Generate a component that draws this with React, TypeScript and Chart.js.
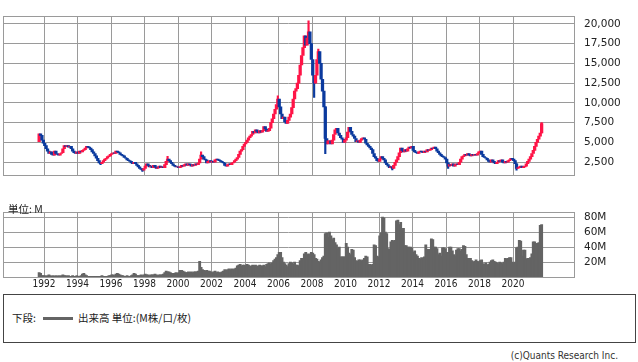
import React, { useEffect, useRef } from "react";
import { Chart, registerables } from "chart.js";
Chart.register(...registerables);

// ---- data (monthly, starting Sep 1991) ----
const START_YEAR = 1991;
const START_MONTH = 9;
const firstOpen = 5100;
const closes = [
  6100, 5900, 5300, 4900,
  4600, 4200, 3900, 3600, 3800, 3500, 3400, 3900, 3600, 3500, 3400, 3600,
  3700, 4200, 4600, 4500, 4600, 4400, 4500, 4200, 3900, 3700, 3600, 3800,
  3600, 3900, 3800, 4000, 4100, 4300, 4500, 4400, 4300, 4100, 3800, 3600,
  3300, 3000, 2700, 2400, 2300, 2500, 2700, 2900, 3000, 3200, 3300, 3500,
  3600, 3700, 3600, 3900, 3800, 3700, 3500, 3400, 3300, 3100, 3000, 2800,
  2700, 2600, 2400, 2300, 2500, 2300, 2100, 1900, 1700, 1600, 1500, 1700,
  2000, 2300, 2100, 1900, 2000, 1800, 2100, 1900, 1700, 1800, 2000, 1800,
  1900, 1800, 2200, 2600, 2900, 2700, 2500, 2300, 2100, 2000, 1900, 1900,
  1800, 1900, 2100, 2000, 2200, 2300, 2100, 2300, 2200, 2000, 2200, 2100,
  2300, 2200, 2400, 2900, 3400, 3200, 2900, 2800, 2400, 2600, 2700, 2500,
  2600, 2500, 2800, 2900, 2800, 2700, 2600, 2500, 2400, 2100, 2000, 2200,
  2300, 2200, 2400, 2500, 2700, 2900, 3100, 3500, 3900, 4100, 4500, 4800,
  5000, 5300, 5600, 5800, 6000, 6400, 6200, 6600, 6400, 6200, 6500, 6300,
  6500, 7000, 6700, 6400, 6500, 6800, 7500, 8000, 8600, 9200, 9800, 10500,
  9500, 8600, 8000, 8200, 7600, 7400, 7800, 8200, 8600, 9400, 10500, 11500,
  11800, 12500, 13500, 14800, 16000, 17000, 18500, 17300, 18200, 19000, 17500, 15500,
  13500, 12500, 13500, 15500, 16500, 15000, 13000, 11500, 9500, 5500, 4800, 5200,
  5200, 4800, 5300, 6000, 6600, 6800, 6200, 5900, 5600, 5400, 5000, 5300,
  5600, 6300, 6900, 6400, 6000, 5800, 5500, 5100, 5200, 5000, 5300, 5500,
  5600, 5400, 4900, 4700, 4500, 4300, 4100, 3600, 3200, 3000, 2700, 2600,
  2900, 3200, 3000, 2800, 2400, 2200, 2000, 1800, 1900, 1700, 2100, 2500,
  2800, 3200, 3700, 4300, 4000, 3800, 4100, 3900, 4200, 4400, 4300, 4500,
  4000, 3800, 3700, 3600, 3800, 3900, 3800, 3700, 3900, 3800, 4100, 4000,
  4100, 4300, 4200, 4400, 4200, 3900, 3700, 3500, 3300, 3200, 3100, 2900,
  2400, 2000, 2200, 2100, 2300, 2000, 2200, 2300, 2200, 2500, 2900, 3200,
  3300, 3500, 3400, 3600, 3400, 3300, 3500, 3400, 3500, 3400, 3600, 3800,
  3900, 3500, 3200, 3100, 3000, 2800, 2600, 2500, 2800, 2600, 2400, 2300,
  2500, 2700, 2600, 2800, 2500, 2400, 2600, 2500, 2700, 2800, 3000, 2900,
  2700, 2300, 1700, 1800, 1900, 2000, 1800, 1900, 2000, 2300, 2600, 2900,
  3200, 3600, 4000, 4500, 5000, 5400, 5800, 6200, 7400,
];
// monthly volume, millions
const volumes = [
  6, 5, 2, 2,
  2, 1, 2, 3, 2, 1, 2, 1, 2, 1, 2, 1,
  2, 3, 2, 2, 1, 2, 1, 1, 2, 1, 1, 2,
  1, 1, 2, 4, 5, 3, 2, 1, 1, 1, 1, 1,
  1, 1, 1, 1, 1, 2, 1, 1, 1, 1, 2, 2,
  3, 3, 2, 4, 5, 4, 3, 2, 2, 1, 1, 2,
  1, 1, 2, 3, 5, 4, 2, 2, 2, 3, 2, 3,
  4, 3, 3, 2, 3, 3, 3, 4, 3, 2, 3, 3,
  3, 4, 6, 8, 7, 7, 6, 5, 5, 5, 6, 5,
  6, 9, 9, 8, 7, 6, 6, 7, 6, 7, 6, 7,
  7, 7, 8, 21, 13, 10, 9, 8, 9, 8, 8, 7,
  6, 7, 8, 6, 7, 6, 6, 7, 8, 10, 9, 10,
  11, 10, 11, 10, 11, 12, 15, 16, 17, 15, 16, 16,
  15, 17, 16, 14, 15, 16, 15, 16, 14, 15, 16, 15,
  15, 16, 14, 17, 18, 19, 17, 19, 22, 24, 26, 30,
  33, 33, 26, 20, 18, 16, 14, 18, 20, 19, 17, 20,
  16, 16, 15, 22, 25, 22, 31, 33, 30, 31, 28, 33,
  32, 30, 25, 24, 21, 20, 23, 26, 28, 58, 59, 53,
  60, 55, 50, 52, 46, 43, 38, 40, 27, 27, 27, 27,
  45, 40, 32, 30, 37, 36, 26, 22, 21, 23, 23, 22,
  23, 25, 28, 27, 17, 17, 16, 17, 43, 42, 28, 27,
  55, 59, 80, 79, 60, 58, 38, 37, 47, 49, 48, 49,
  75, 76, 70, 73, 62, 65, 42, 42, 40, 40, 40, 39,
  33, 35, 30, 28, 25, 24, 26, 25, 27, 43, 37, 37,
  37, 51, 50, 40, 40, 38, 30, 32, 28, 39, 39, 38,
  33, 33, 40, 40, 35, 30, 28, 36, 38, 38, 35, 37,
  42, 41, 30, 25, 25, 25, 22, 20, 21, 23, 21, 20,
  22, 23, 18, 17, 19, 16, 17, 20, 22, 23, 21, 20,
  19, 18, 20, 19, 18, 20, 25, 24, 25, 26, 26, 20,
  19, 20, 39, 40, 49, 48, 28, 36, 36, 24, 25, 24,
  26, 31, 47, 47, 44, 45, 46, 69, 70,
];
const wickMonths = ["1995-05", "1997-11", "1999-05", "2001-05", "2005-12", "2007-10", "2008-02", "2008-05", "2008-10", "2012-10", "2016-02", "2020-03", "2021-09"];
const wickLows = [2180, 1330, 2600, 3000, 10000, 18000, 10700, 15800, 3570, 1530, 1700, 1500, 6200];
const wickHighs = [2500, 1700, 3250, 3800, 10900, 20400, 13500, 16800, 9500, 1900, 2400, 2300, 7500];
const yearTicks = [1992, 1994, 1996, 1998, 2000, 2002, 2004, 2006, 2008, 2010, 2012, 2014, 2016, 2018, 2020];
const priceTicks = [2500, 5000, 7500, 10000, 12500, 15000, 17500, 20000];
const volumeTicks = [20, 40, 60, 80];

// ---- styles ----
const X_MIN = 1989.55;
const X_MAX = 2023.64;
const RED = "#ff1447";
const BLUE = "#0b3a9e";
const GRID = "#9a9a9a";
const VOL = "#646464";
const TICK_FONT = { family: "'DejaVu Sans'", size: 10.5 };
const YEAR_FONT = { family: "'DejaVu Sans Condensed', 'DejaVu Sans'", size: 10 };

const monthX = (i: number) => START_YEAR + (START_MONTH - 1 + i + 0.5) / 12;
const keyIndex = (k: string) => {
  const [y, m] = k.split("-").map(Number);
  return (y - START_YEAR) * 12 + (m - START_MONTH);
};

const framePlugin = {
  id: "frame",
  beforeDatasetsDraw(chart: any) {
    const { ctx, chartArea: a } = chart;
    ctx.save();
    ctx.strokeStyle = GRID;
    ctx.lineWidth = 1;
    ctx.strokeRect(Math.round(a.left) + 0.5, Math.round(a.top) + 0.5, Math.round(a.right - a.left), Math.round(a.bottom - a.top));
    ctx.restore();
  },
};

function PriceChart() {
  const ref = useRef<HTMLCanvasElement>(null);
  useEffect(() => {
    const opens = closes.map((c, i) => (i === 0 ? firstOpen : closes[i - 1]));
    const bodies = closes.map((c, i) => ({ x: monthX(i), y: [opens[i], c] }));
    const bodyColors = closes.map((c, i) => (c >= opens[i] ? RED : BLUE));
    const wicks = wickMonths.map((k, j) => ({ x: monthX(keyIndex(k)), y: [wickLows[j], wickHighs[j]] }));
    const wickColors = wickMonths.map((k) => {
      const i = keyIndex(k);
      return closes[i] >= opens[i] ? RED : BLUE;
    });
    const chart = new Chart(ref.current!, {
      type: "bar",
      data: {
        datasets: [
          { data: wicks as any, backgroundColor: wickColors, barThickness: 1.5, grouped: false, order: 1 } as any,
          { data: bodies as any, backgroundColor: bodyColors, barThickness: 2.6, grouped: false, order: 0 } as any,
        ],
      },
      options: {
        animation: false,
        responsive: false,
        maintainAspectRatio: false,
        layout: { padding: { left: 3, top: 1, right: 0, bottom: 2 } },
        plugins: { legend: { display: false }, tooltip: { enabled: false } },
        scales: {
          x: {
            type: "linear",
            min: X_MIN,
            max: X_MAX,
            offset: false,
            grid: { color: GRID, drawTicks: false, offset: false },
            border: { display: false },
            ticks: { display: false },
            afterBuildTicks: (s: any) => {
              s.ticks = yearTicks.map((v) => ({ value: v }));
            },
            afterFit: (s: any) => {
              s.height = 0;
            },
          },
          y: {
            position: "right",
            min: 793,
            max: 20960,
            grid: { color: GRID, drawTicks: false },
            border: { display: false },
            ticks: {
              padding: 10,
              color: "#222",
              font: TICK_FONT,
              callback: (v: any) => Number(v).toLocaleString("en-US"),
            },
            afterBuildTicks: (s: any) => {
              s.ticks = priceTicks.map((v) => ({ value: v }));
            },
            afterFit: (s: any) => {
              s.width = 64;
            },
          },
        },
      } as any,
      plugins: [framePlugin],
    });
    return () => chart.destroy();
  }, []);
  return <canvas ref={ref} width={638} height={192} style={{ position: "absolute", left: 0, top: 0 }} />;
}

function VolumeChart() {
  const ref = useRef<HTMLCanvasElement>(null);
  useEffect(() => {
    const bars = volumes.map((v, i) => ({ x: monthX(i), y: v }));
    const chart = new Chart(ref.current!, {
      type: "bar",
      data: {
        datasets: [{ data: bars as any, backgroundColor: VOL, barThickness: 2.2 } as any],
      },
      options: {
        animation: false,
        responsive: false,
        maintainAspectRatio: false,
        layout: { padding: { left: 3, top: 5, right: 0, bottom: 0 } },
        plugins: { legend: { display: false }, tooltip: { enabled: false } },
        scales: {
          x: {
            type: "linear",
            min: X_MIN,
            max: X_MAX,
            offset: false,
            grid: { color: GRID, drawTicks: false, offset: false },
            border: { display: false },
            ticks: {
              padding: 1,
              color: "#222",
              font: YEAR_FONT,
              maxRotation: 0,
              autoSkip: false,
              callback: (v: any) => String(v),
            },
            afterBuildTicks: (s: any) => {
              s.ticks = yearTicks.map((v) => ({ value: v }));
            },
            afterFit: (s: any) => {
              s.height = 17;
            },
          },
          y: {
            position: "right",
            min: 0,
            max: 86.5,
            grid: { color: GRID, drawTicks: false },
            border: { display: false },
            ticks: {
              padding: 10,
              color: "#222",
              font: TICK_FONT,
              callback: (v: any) => v + "M",
            },
            afterBuildTicks: (s: any) => {
              s.ticks = volumeTicks.map((v) => ({ value: v }));
            },
            afterFit: (s: any) => {
              s.width = 64;
            },
          },
        },
      } as any,
      plugins: [framePlugin],
    });
    return () => chart.destroy();
  }, []);
  return <canvas ref={ref} width={638} height={98} style={{ position: "absolute", left: 0, top: 196 }} />;
}

export default function App() {
  const jp = "'Noto Sans CJK JP', 'DejaVu Sans', sans-serif";
  return (
    <div style={{ position: "absolute", left: 0, top: 0, width: 638, height: 362, background: "#fff", overflow: "hidden" }}>
      <PriceChart />
      <VolumeChart />
      <div style={{ position: "absolute", left: 8, top: 202, font: `10.5px ${jp}`, lineHeight: "14px", color: "#222" }}>単位: M</div>
      <div style={{ position: "absolute", left: 3, top: 294, width: 633, height: 49, border: "1px solid #444", boxSizing: "border-box" }} />
      <div style={{ position: "absolute", left: 12, top: 311, font: `10.5px ${jp}`, lineHeight: "14px", color: "#222" }}>下段:</div>
      <div style={{ position: "absolute", left: 43, top: 317, width: 30, height: 3, background: VOL }} />
      <div style={{ position: "absolute", left: 78, top: 311, font: `10.5px ${jp}`, lineHeight: "14px", color: "#222", whiteSpace: "nowrap" }}>出来高 単位:(M株/口/枚)</div>
      <div style={{ position: "absolute", right: 20, top: 349, font: "10px 'DejaVu Sans Condensed', 'DejaVu Sans'", lineHeight: "14px", color: "#333", whiteSpace: "nowrap" }}>(c)Quants Research Inc.</div>
    </div>
  );
}
